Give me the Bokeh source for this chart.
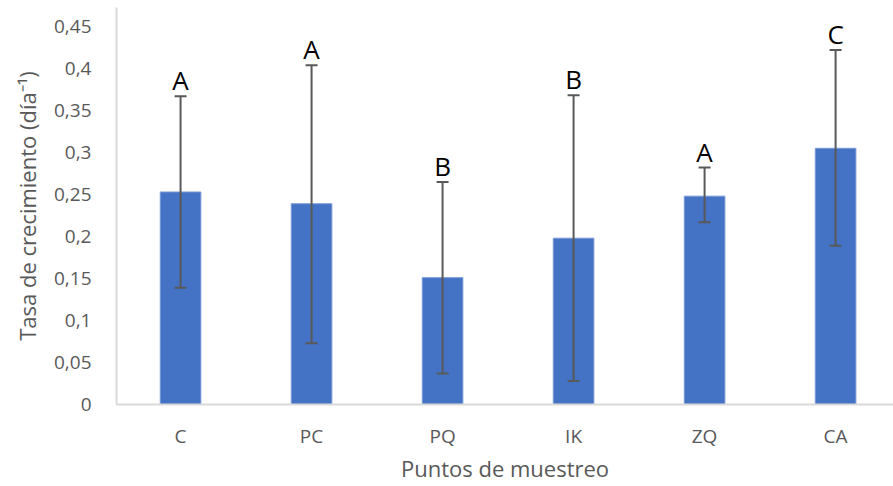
from bokeh.plotting import figure
from bokeh.models import ColumnDataSource, Range1d, FixedTicker, Whisker, TeeHead, LabelSet
from bokeh.core.properties import value
from bokeh.embed import file_html
from bokeh.resources import INLINE

categories = ["C", "PC", "PQ", "IK", "ZQ", "CA"]
values = [0.253, 0.239, 0.151, 0.198, 0.248, 0.305]
upper = [0.367, 0.404, 0.265, 0.368, 0.282, 0.422]
lower = [0.139, 0.073, 0.037, 0.028, 0.217, 0.189]
letters = ["A", "A", "B", "B", "A", "C"]
y_ticks = [0, 0.05, 0.1, 0.15, 0.2, 0.25, 0.3, 0.35, 0.4, 0.45]

xs = list(range(len(categories)))
src = ColumnDataSource(dict(x=xs, v=values, up=upper, lo=lower, lab=letters))

FONT = "Open Sans"
p = figure(width=893, height=486, output_backend="svg", toolbar_location=None,
           x_range=Range1d(-0.489, 5.442), y_range=Range1d(0, 0.4726),
           min_border_left=116, min_border_right=0, min_border_top=7, min_border_bottom=82)
p.outline_line_color = None
p.xgrid.visible = False
p.ygrid.visible = False

p.vbar(x="x", top="v", bottom=0, width=0.31, source=src,
       fill_color="#4472c4", line_color="#7a9ad6", line_width=1)

w = Whisker(base="x", upper="up", lower="lo", source=src, line_color="#595959", line_width=2,
            upper_head=TeeHead(size=12, line_color="#595959", line_width=2),
            lower_head=TeeHead(size=12, line_color="#595959", line_width=2),
            level="overlay")
p.add_layout(w)

labels = LabelSet(x="x", y="up", text="lab", source=src, text_align="center",
                  text_baseline="alphabetic", y_offset=6, text_font=value(FONT),
                  text_font_size="26px", text_color="#000000")
p.add_layout(labels)

p.xaxis.ticker = FixedTicker(ticks=xs)
p.xaxis.major_label_overrides = {i: c for i, c in zip(xs, categories)}
p.yaxis.ticker = FixedTicker(ticks=y_ticks)
p.yaxis.major_label_overrides = {t: (str(t).replace(".", ",") if t != 0 else "0") for t in y_ticks}

for ax in (p.xaxis[0], p.yaxis[0]):
    ax.axis_line_color = "#d9d9d9"
    ax.axis_line_width = 2
    ax.major_tick_line_color = None
    ax.minor_tick_line_color = None
    ax.major_label_text_font = FONT
    ax.major_label_text_font_size = "19px"
    ax.major_label_text_color = "#595959"
    ax.axis_label_text_font = FONT
    ax.axis_label_text_font_size = "22px"
    ax.axis_label_text_font_style = "normal"
    ax.axis_label_text_color = "#595959"

p.xaxis.axis_label = "Puntos de muestreo"
p.yaxis.axis_label = "Tasa de crecimiento (día⁻¹)"
p.yaxis.major_label_standoff = 19
p.xaxis.major_label_standoff = 12
p.xaxis.axis_label_standoff = 1
p.yaxis.axis_label_standoff = 9

open("out.html", "w").write(file_html(p, INLINE))
